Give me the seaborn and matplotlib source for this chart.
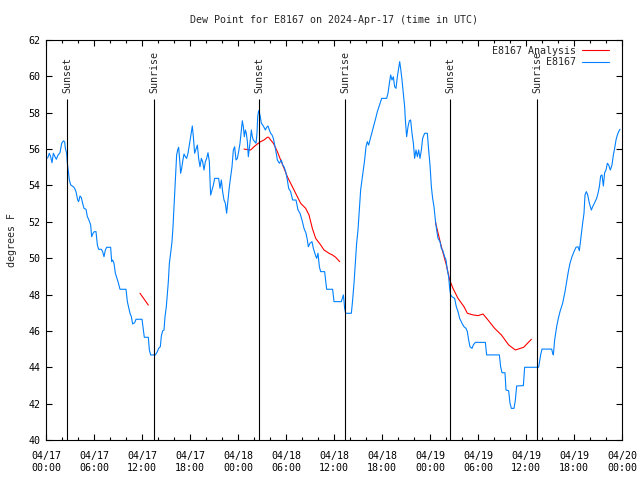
# punto_rocio.py
# Grafico del punto de rocio para E8167 (estilo gnuplot) con seaborn

import pandas as pd
import matplotlib
matplotlib.use('Agg')
import matplotlib.pyplot as plt
import matplotlib.dates as mdates
import seaborn as sns

# Datos leidos del grafico
# horas desde 2024-04-17 00:00 UTC
inicio = pd.Timestamp('2024-04-17 00:00')

horas_obs = [
    0.2, 0.42, 0.58, 0.75, 0.92, 1.12, 1.29, 1.5, 1.75, 1.96, 2.17, 2.33, 2.42, 2.58,
    2.67, 2.79, 2.92, 3.08, 3.42, 3.58, 3.75, 3.96, 4.08, 4.25, 4.42, 4.58, 4.75, 5.0,
    5.17, 5.33, 5.58, 5.71, 5.88, 6.04, 6.25, 6.42, 6.58, 6.92, 7.08, 7.25, 7.42, 7.58,
    8.08, 8.21, 8.33, 8.5, 8.67, 8.83, 9.0, 9.25, 10.0, 10.17, 10.33, 10.5, 10.67, 10.83,
    11.08, 11.25, 12.0, 12.17, 12.29, 12.79, 12.92, 13.08, 13.67, 13.92, 14.08, 14.29,
    14.42, 14.58, 14.75, 14.875, 15.04, 15.17, 15.29, 15.42, 15.58, 15.75, 15.875, 16.0,
    16.125, 16.25, 16.33, 16.46, 16.58, 16.71, 16.83, 16.96, 17.08, 17.25, 17.42, 17.58,
    17.75, 17.92, 18.08, 18.21, 18.29, 18.42, 18.58, 18.75, 18.92, 19.08, 19.25, 19.42,
    19.58, 19.75, 19.92, 20.08, 20.25, 20.42, 20.5, 20.58, 20.75, 20.92, 21.08, 21.58,
    21.75, 21.92, 22.08, 22.25, 22.42, 22.58, 22.75, 22.92, 23.08, 23.25, 23.42, 23.58,
    23.75, 23.92, 24.08, 24.25, 24.42, 24.54, 24.67, 24.79, 24.92, 25.04, 25.17, 25.29,
    25.42, 25.54, 25.67, 25.79, 25.92, 26.08, 26.25, 26.375, 26.46, 26.58, 26.75, 26.92,
    27.08, 27.25, 27.42, 27.58, 27.75, 27.92, 28.08, 28.25, 28.42, 28.71, 28.92, 29.17,
    29.42, 29.58, 29.75, 29.96, 30.17, 30.33, 30.58, 30.83, 31.25, 31.5, 31.75, 32.0,
    32.25, 32.5, 32.67, 32.79, 33.0, 33.25, 33.42, 33.67, 33.83, 34.0, 34.17, 34.33,
    34.83, 35.0, 35.08, 35.83, 36.0, 36.92, 37.04, 37.17, 37.25, 37.33, 37.46, 38.17,
    38.33, 38.5, 38.67, 38.83, 39.0, 39.17, 39.33, 39.5, 39.67, 39.83, 40.0, 40.17,
    40.33, 40.5, 40.67, 40.83, 41.0, 41.21, 41.42, 41.625, 41.83, 41.96, 42.58, 42.75,
    42.92, 43.08, 43.25, 43.42, 43.58, 43.75, 43.92, 44.08, 44.21, 44.33, 44.5, 44.67,
    44.83, 44.92, 45.08, 45.25, 45.42, 45.58, 45.75, 45.92, 46.08, 46.25, 46.42, 46.58,
    46.75, 46.92, 47.08, 47.33, 47.67, 47.83, 48.0, 48.17, 48.33, 48.5, 48.67, 48.83,
    49.0, 49.25, 49.42, 49.58, 49.83, 50.0, 50.17, 50.33, 50.46, 50.58, 50.75, 51.08,
    51.29, 51.5, 51.71, 52.0, 52.25, 52.5, 52.67, 52.83, 53.0, 53.25, 53.42, 53.67,
    54.92, 55.08, 56.67, 56.83, 57.0, 57.375, 57.5, 57.83, 58.0, 58.17, 58.5, 58.67,
    58.83, 59.67, 59.83, 61.58, 61.83, 62.0, 63.21, 63.33, 63.42, 63.58, 63.83, 64.04,
    64.25, 64.58, 64.875, 65.08, 65.29, 65.5, 65.75, 66.0, 66.25, 66.5, 66.67, 66.83,
    67.08, 67.25, 67.375, 67.54, 67.71, 67.92, 68.17, 68.33, 68.58, 68.83, 69.0, 69.17,
    69.33, 69.5, 69.67, 69.83, 70.0, 70.17, 70.33, 70.54, 70.75, 70.92, 71.08, 71.25,
    71.42, 71.58, 71.75,
]

rocio_obs = [
    55.5, 55.77, 55.58, 55.25, 55.77, 55.58, 55.44, 55.67, 55.8, 56.32, 56.45, 56.4, 56.04, 55.77,
    55.22, 54.76, 54.3, 54.03, 53.93, 53.84, 53.66, 53.2, 53.11, 53.42, 53.33, 53.02, 52.74, 52.69,
    52.28, 52.14, 51.83, 51.18, 51.37, 51.46, 51.46, 50.73, 50.49, 50.49, 50.36, 50.08, 50.45, 50.6,
    50.6, 49.81, 49.9, 49.72, 49.17, 48.95, 48.71, 48.29, 48.29, 47.61, 47.3, 46.97, 46.78, 46.38,
    46.45, 46.64, 46.64, 46.05, 45.65, 45.65, 44.95, 44.68, 44.68, 44.86, 45.04, 45.13,
    45.72, 46.0, 46.05, 46.78, 47.33, 48.07, 48.7, 49.72, 50.27, 50.91, 51.73, 52.83,
    53.93, 54.94, 55.68, 55.95, 56.1, 55.4, 54.67, 54.94, 55.31, 55.73, 55.58, 55.49,
    55.77, 56.22, 56.68, 57.05, 57.27, 56.68, 55.77, 55.99, 56.22, 55.49, 55.03, 55.49,
    55.31, 54.85, 55.31, 55.49, 55.8, 55.31, 54.3, 53.47, 53.75, 54.02, 54.39, 54.39,
    53.84, 54.3, 53.66, 53.2, 53.02, 52.47, 53.2, 53.93, 54.48, 55.03, 55.95, 56.13,
    55.4, 55.49, 55.86, 56.32, 57.05, 57.56, 57.23, 56.68, 57.05, 56.87, 56.41, 55.58,
    56.04, 56.5, 57.05, 56.68, 56.5, 56.41, 56.32, 56.87, 57.78, 58.11, 57.87, 57.42,
    57.33, 57.2, 57.05, 57.2, 57.27, 57.05, 56.87, 56.78, 56.59, 55.95, 55.4, 55.22,
    55.4, 55.13, 55.03, 54.76, 54.3, 53.84, 53.66, 53.2, 53.2, 52.65, 52.47, 52.1,
    51.64, 51.37, 51.0, 50.63, 50.82, 50.91, 50.54, 50.18, 49.99, 50.27, 49.53, 49.26,
    49.26, 48.62, 48.29, 48.29, 47.61, 47.61, 47.79, 47.98, 47.65, 47.24, 46.97, 46.97,
    47.7, 48.62, 49.72, 50.82, 51.55, 52.65, 53.75, 54.3, 54.85, 55.4, 56.13, 56.41,
    56.22, 56.5, 56.78, 57.05, 57.33, 57.69, 58.06, 58.33, 58.61, 58.79, 58.79, 59.07,
    59.62, 60.08, 59.8, 59.98, 59.43, 59.34, 59.98, 60.44, 60.81, 60.44, 59.8, 59.07,
    58.33, 57.6, 56.68, 57.23, 57.56, 57.6, 56.87, 56.32, 55.49, 55.95, 55.58, 55.95,
    55.49, 55.95, 56.59, 56.87, 56.87, 55.95, 55.13, 53.93, 53.29, 52.83, 52.1, 51.55,
    51.09, 50.91, 50.54, 50.45, 50.08, 49.9, 49.35, 48.98, 48.34, 47.98, 47.88, 47.79,
    47.33, 47.06, 46.69, 46.42, 46.23, 46.14, 45.96, 45.5, 45.13, 45.04, 45.23, 45.37,
    45.37, 44.68, 44.68, 44.03, 43.7, 43.7, 42.75, 42.71, 42.02, 41.74, 41.74, 42.2,
    42.97, 42.99, 44.0, 44.0, 44.68, 45.0, 45.0, 44.77, 44.68, 45.5, 46.23, 46.69,
    47.06, 47.52, 48.16, 48.7, 49.26, 49.72, 50.08, 50.36, 50.6, 50.63, 50.41, 51.0,
    51.92, 52.47, 53.48, 53.66, 53.48, 53.02, 52.65, 52.83, 53.05, 53.29, 53.57, 53.93,
    54.52, 54.58, 53.97, 54.7, 54.85, 55.22, 55.13, 54.85, 55.13, 55.68, 56.04, 56.5,
    56.78, 56.96, 57.09,
]

# Analisis (linea roja) en tres tramos
horas_ana_1 = [11.75, 12.79]
rocio_ana_1 = [48.07, 47.42]

horas_ana_2 = [24.75, 25.58, 26.0, 26.42, 26.83, 27.25, 27.67, 27.83, 28.08, 28.42, 28.67,
               28.92, 29.33, 29.67, 30.17, 31.0, 31.83, 32.46, 32.875, 33.29, 33.71, 34.33,
               34.75, 35.375, 35.79, 36.21, 36.71]
rocio_ana_2 = [56.0, 55.95, 56.13, 56.28, 56.41, 56.5, 56.65, 56.65, 56.5, 56.32, 56.1,
               55.86, 55.4, 55.04, 54.48, 53.75, 53.02, 52.74, 52.38, 51.64, 51.09, 50.73,
               50.45, 50.27, 50.18, 50.05, 49.81]

horas_ana_3 = [48.67, 49.42, 50.04, 50.46, 50.875, 51.5, 52.25, 52.67, 53.375, 54.0, 54.625,
               55.25, 56.08, 56.92, 57.83, 58.67, 59.29, 59.71, 60.67]
rocio_ana_3 = [52.0, 50.63, 49.63, 48.8, 48.34, 47.79, 47.33, 46.97, 46.88, 46.84, 46.93,
               46.6, 46.14, 45.78, 45.23, 44.95, 45.04, 45.1, 45.54]

# Puesta y salida del sol (horas desde el inicio)
eventos = ['Sunset', 'Sunrise', 'Sunset', 'Sunrise', 'Sunset', 'Sunrise']
horas_eventos = [2.66, 13.54, 26.66, 37.41, 50.54, 61.41]

# Armar la tabla para seaborn
partes = [pd.DataFrame({'horas': horas_obs, 'rocio': rocio_obs,
                        'serie': 'E8167', 'tramo': 0})]
for i, (h, r) in enumerate([(horas_ana_1, rocio_ana_1),
                            (horas_ana_2, rocio_ana_2),
                            (horas_ana_3, rocio_ana_3)]):
    partes.append(pd.DataFrame({'horas': h, 'rocio': r,
                                'serie': 'E8167 Analysis', 'tramo': i + 1}))
df = pd.concat(partes, ignore_index=True)
df['tiempo'] = inicio + pd.to_timedelta(df['horas'], unit='h')

# Estilo
sns.set_style('ticks')
plt.rcParams['font.family'] = ['DejaVu Sans Mono']
tam = 7.2

fig = plt.figure(figsize=(6.4, 4.8), dpi=100)
ax = fig.add_axes([46 / 640, 40 / 480, 576 / 640, 400 / 480])

sns.lineplot(data=df, x='tiempo', y='rocio', hue='serie',
             hue_order=['E8167 Analysis', 'E8167'],
             palette={'E8167 Analysis': '#ff0000', 'E8167': '#0080ff'},
             units='tramo', estimator=None, sort=False, linewidth=0.8, ax=ax)

# Lineas de puesta / salida del sol
for nombre, h in zip(eventos, horas_eventos):
    t = inicio + pd.Timedelta(hours=h)
    ax.vlines(t, 40, 58.75, color='black', linewidth=0.8)
    ax.text(t, 59.1, nombre, rotation=90, ha='center', va='bottom', fontsize=tam)

# Ejes
ax.set_xlim(inicio, inicio + pd.Timedelta(hours=72))
ax.set_ylim(40, 62)
ax.set_yticks(range(40, 63, 2))
ax.xaxis.set_major_locator(mdates.HourLocator(byhour=range(0, 24, 6)))
ax.xaxis.set_minor_locator(mdates.HourLocator(byhour=range(0, 24, 2)))
ax.xaxis.set_major_formatter(mdates.DateFormatter('%m/%d\n%H:%M'))
ax.tick_params(which='both', direction='in', top=True, right=True,
               width=0.8, labelsize=tam, colors='black')
ax.tick_params(which='major', length=4)
ax.tick_params(which='minor', length=2.5)
ax.tick_params(axis='x', which='major', pad=8)
ax.tick_params(axis='y', which='major', pad=4)
for s in ax.spines.values():
    s.set_linewidth(0.8)
    s.set_color('black')

ax.set_xlabel('')
ax.set_ylabel('degrees F', fontsize=tam, labelpad=8)
ax.set_title('Dew Point for E8167 on 2024-Apr-17 (time in UTC)', fontsize=tam, pad=12)

# Leyenda estilo gnuplot (texto a la izquierda de la muestra)
handles, labels = ax.get_legend_handles_labels()
ax.legend(handles, labels, loc='upper right', bbox_to_anchor=(0.984, 0.995),
          borderaxespad=0, frameon=False, markerfirst=False, fontsize=tam,
          handlelength=2.7, handletextpad=0.6, labelspacing=0.15)

plt.savefig('out.png', dpi=100)
